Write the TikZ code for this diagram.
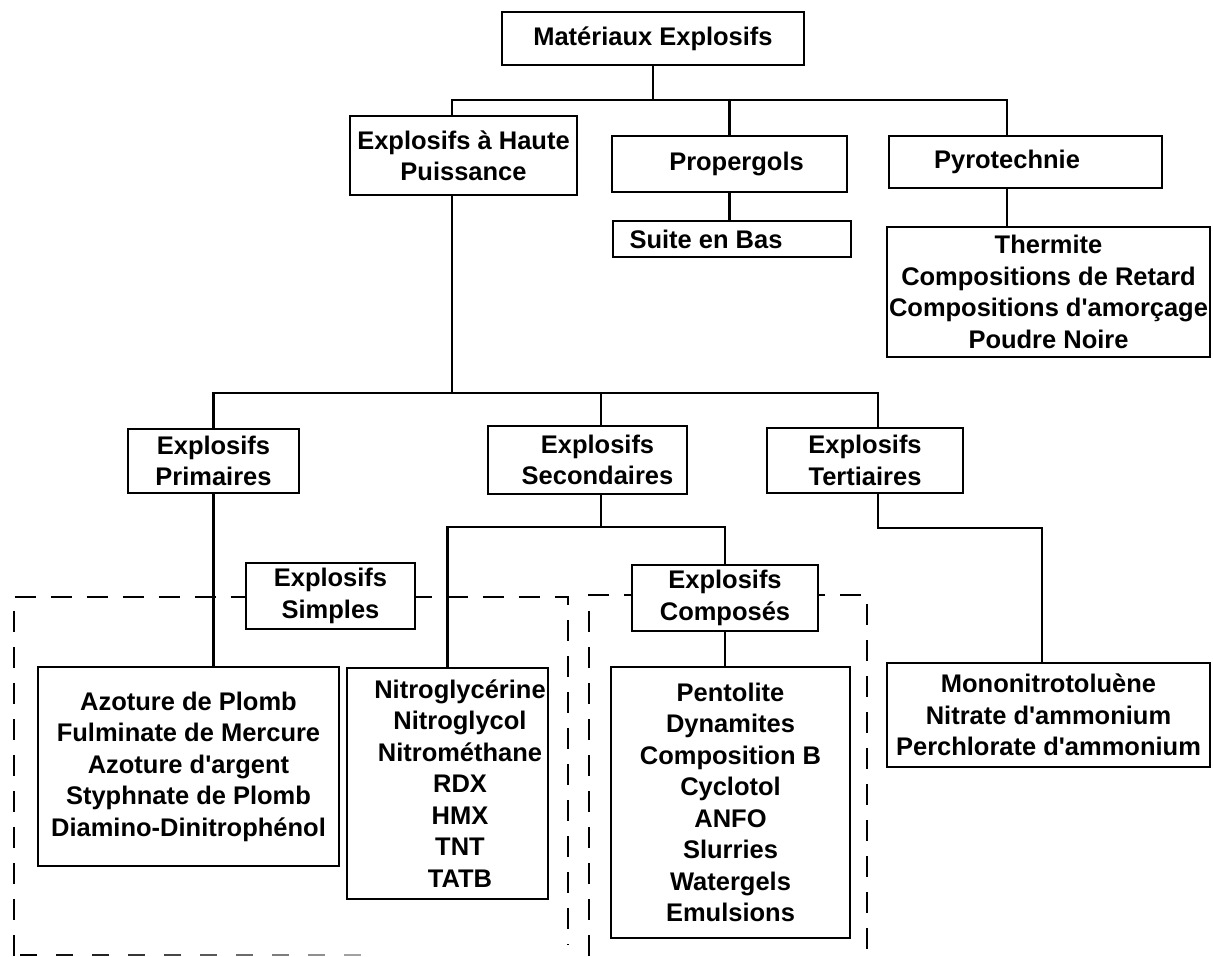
\documentclass[tikz,border=0pt]{standalone}
\usepackage{fontspec}
\setmainfont{Liberation Sans}
\newcommand\ap{\textquotesingle}
\tikzset{
  box/.style={draw, line width=1.2pt, fill=white, inner sep=0pt, align=center,
    font=\bfseries\fontsize{14.5}{17.9}\selectfont},
  boxsize/.style 2 args={minimum width=#1*0.2mm, minimum height=#2*0.2mm},
  link/.style={line width=1.3pt},
  dashline/.style={line width=1.3pt, dash pattern=on 4.2mm off 3mm},
}
\begin{document}
\begin{tikzpicture}[x=0.2mm, y=-0.2mm]
			%%%%% START %%%%%
			\useasboundingbox (0,0) rectangle (1213,956);

			% dashed groups
			\draw[dashline] (14,956) -- (14,597) -- (568,597) -- (568,945);
			\draw[dashline] (589,956) -- (589,595) -- (867,595) -- (867,956);
			\foreach \i [evaluate=\i as \c using int(100-7*\i)] in {0,...,9}
				\draw[line width=1.5pt, black!\c] (20+36*\i,955) -- ++(17,0);

			% top level
			\node[box, boxsize={302}{53}] (mat) at (653,38.5) {Matériaux Explosifs};
			\node[box, boxsize={227}{79}] (hp) at (463.5,155.5) {Explosifs à Haute\\Puissance};
			\node[box, boxsize={235}{56}] (prop) at (729.5,164) {\hspace*{2.8mm}Propergols};
			\node[box, boxsize={238}{36}] (suite) at (732,239) {Suite en Bas\hspace*{10.4mm}};
			\node[box, boxsize={273}{52}] (pyro) at (1025.5,162) {Pyrotechnie\hspace*{7.4mm}};
			\node[box, boxsize={323}{130}] (pyrol) at (1048.5,292)
				{Thermite\\Compositions de Retard\\Compositions d\ap amorçage\\Poudre Noire};

			% second level
			\node[box, boxsize={171}{64}] (prim) at (213.5,461) {Explosifs\\Primaires};
			\node[box, boxsize={199}{68}] (sec) at (587.5,460)
				{\hspace*{4mm}Explosifs\\\hspace*{4mm}Secondaires};
			\node[box, boxsize={196}{65}] (tert) at (865,460.5) {Explosifs\\Tertiaires};
			\node[box, boxsize={169}{66}] (simp) at (330.5,596) {Explosifs\\Simples};
			\node[box, boxsize={186}{66}] (comp) at (725,598) {Explosifs\\Composés};

			% lists
			\node[box, boxsize={301}{199}] (azo) at (188.5,766.5)
				{Azoture de Plomb\\Fulminate de Mercure\\Azoture d\ap argent\\Styphnate de Plomb\\Diamino-Dinitrophénol};
			\node[box, boxsize={201}{231}] (nitro) at (447.5,783.5)
				{\hspace*{5mm}Nitroglycérine\\\hspace*{5mm}Nitroglycol\\\hspace*{5mm}Nitrométhane\\\hspace*{5mm}RDX\\\hspace*{5mm}HMX\\\hspace*{5mm}TNT\\\hspace*{5mm}TATB};
			\node[box, boxsize={239}{271}] (pent) at (730.5,802.5)
				{Pentolite\\Dynamites\\Composition B\\Cyclotol\\ANFO\\Slurries\\Watergels\\Emulsions};
			\node[box, boxsize={323}{104}] (mono) at (1048.5,715)
				{Mononitrotoluène\\Nitrate d\ap ammonium\\Perchlorate d\ap ammonium};

			% connectors, top
			\coordinate (hpN) at ([xshift=-2.3mm]hp.north);
			\coordinate (hpS) at ([xshift=-2.3mm]hp.south);
			\coordinate (pyroN) at ([xshift=-3.7mm]pyro.north);
			\coordinate (pyroS) at ([xshift=-3.7mm]pyro.south);
			\draw[link] (mat.south) -- ++(0,34) coordinate (top);
			\draw[link] (hpN) |- (top) -| (pyroN);
			\draw[link] (prop.north) -- (prop.north |- top);
			\draw[link] (prop.south) -- (prop.south |- suite.north);
			\draw[link] (pyroS) -- (pyroS |- pyrol.north);

			% connectors, middle
			\coordinate (secN) at ([xshift=2.7mm]sec.north);
			\coordinate (secS) at ([xshift=2.7mm]sec.south);
			\coordinate (tertN) at ([xshift=2.6mm]tert.north);
			\coordinate (tertS) at ([xshift=2.6mm]tert.south);
			\coordinate (monoN) at ([xshift=-1.3mm]mono.north);
			\draw[link] (hpS) -- ++(0,197) coordinate (mid);
			\draw[link] (prim.north) |- (mid) -| (secN);
			\draw[link] (mid) -| (tertN);

			% connectors, bottom
			\draw[link] (secS) -- ++(0,32) coordinate (low);
			\draw[link] (nitro.north) |- (low) -| (comp.north);
			\draw[link] (comp.south) -- (comp.south |- pent.north);
			\draw[link] (prim.south) -- (prim.south |- azo.north);
			\draw[link] (tertS) -- ++(0,34) -| (monoN);

			%%%%% END %%%%%
\end{tikzpicture}
\end{document}
